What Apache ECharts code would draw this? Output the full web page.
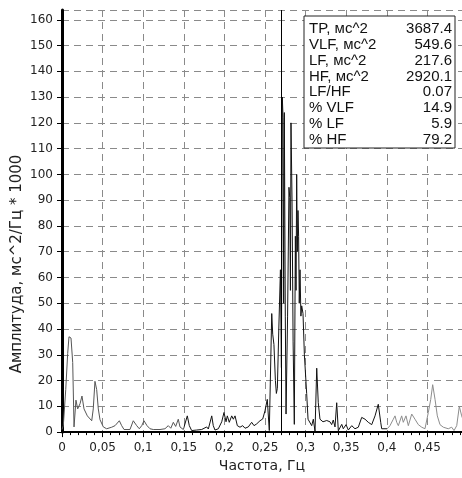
<!DOCTYPE html>
<html>
<head>
<meta charset="utf-8">
<script src="https://cdn.jsdelivr.net/npm/echarts@6/dist/echarts.min.js"></script>
<style>html,body{margin:0;padding:0;background:#fff}#c{width:462px;height:478px}</style>
</head>
<body>
<div id="c"></div>
<script>
var freqs = [0.0000,0.0016,0.0046,0.0070,0.0086,0.0111,0.0132,0.0148,0.0172,0.0193,0.0222,0.0246,0.0271,0.0312,0.0366,0.0385,0.0406,0.0427,0.0447,0.0468,0.0509,0.0550,0.0612,0.0653,0.0706,0.0735,0.0764,0.0837,0.0878,0.0920,0.0952,0.0982,0.1010,0.1047,0.1084,0.1124,0.1207,0.1268,0.1309,0.1340,0.1371,0.1400,0.1432,0.1453,0.1494,0.1543,0.1568,0.1597,0.1659,0.1720,0.1782,0.1802,0.1844,0.1863,0.1884,0.1925,0.1967,0.1995,0.2020,0.2036,0.2060,0.2090,0.2110,0.2131,0.2159,0.2192,0.2225,0.2254,0.2294,0.2336,0.2365,0.2398,0.2417,0.2438,0.2472,0.2500,0.2528,0.2553,0.2583,0.2595,0.2610,0.2628,0.2640,0.2652,0.2670,0.2690,0.2702,0.2713,0.2722,0.2730,0.2738,0.2750,0.2759,0.2778,0.2795,0.2805,0.2813,0.2820,0.2833,0.2846,0.2861,0.2874,0.2882,0.2890,0.2898,0.2906,0.2914,0.2922,0.2931,0.2942,0.2952,0.2968,0.2985,0.3013,0.3030,0.3054,0.3075,0.3095,0.3116,0.3137,0.3156,0.3177,0.3214,0.3260,0.3300,0.3321,0.3341,0.3362,0.3383,0.3403,0.3445,0.3464,0.3498,0.3526,0.3568,0.3608,0.3649,0.3691,0.3732,0.3772,0.3814,0.3855,0.3895,0.3925,0.3937,0.4006,0.4039,0.4080,0.4101,0.4122,0.4142,0.4183,0.4203,0.4236,0.4265,0.4307,0.4347,0.4388,0.4430,0.4470,0.4511,0.4541,0.4565,0.4594,0.4622,0.4655,0.4696,0.4757,0.4799,0.4828,0.4861,0.4893,0.4922,0.4960];
var amps = [1,2.5,16.5,30.5,37,36.5,27,2,12.4,9,11,14,9,6.3,4.4,9,19.7,16.5,9,4.8,2,1.3,1.9,2.5,4.4,2.5,1,1,4.4,2.5,1.3,2.5,4.4,2.5,1.3,1,1,1.3,2.5,1.5,3.8,2.2,5,2,1,6.3,2.5,0.6,0.8,1,2,1.2,6.3,2.5,0.8,1.3,4,7.6,4,6.3,3.8,6.3,5,6.3,2.5,1.9,2.5,1.5,2,3.8,2.5,3.2,2.5,4.4,5.1,8.3,12.7,0.6,46,38,34,20,15,17,40,63,25,130,122,50,124,45,7,45,95,91,55,120,90,35,3,76,55,100,70,86,76,50,63,45,49,46,30,15,5,5,2.5,5,0.3,24.8,11.4,5,4,4.5,4,2.9,4.7,2,11.4,0.5,3,1.3,2.9,0.8,2.5,1.3,1.9,5.7,5,3.8,2.9,6.3,10.8,3.8,1.3,1.3,2.5,5,6.3,3.8,2.5,6.3,3.8,6.3,2.5,7,5,2.9,1.9,1.3,7.6,12.7,18.4,12.7,6.3,2.9,1.9,1.3,1.9,0.6,2.5,10,6.3,3];
var xTickLabels = ['0','0,05','0,1','0,15','0,2','0,25','0,3','0,35','0,4','0,45'];
var yTickLabels = ['0','10','20','30','40','50','60','70','80','90','100','110','120','130','140','150','160'];
var statLabels = ['TP, мс^2','VLF, мс^2','LF, мс^2','HF, мс^2','LF/HF','% VLF','% LF','% HF'];
var statValues = ['3687.4','549.6','217.6','2920.1','0.07','14.9','5.9','79.2'];
var xAxisTitle = 'Частота, Гц';
var yAxisTitle = 'Амплитуда, мс^2/Гц * 1000';
var cursorFreq = 0.2716;

var chart = echarts.init(document.getElementById('c'));
var FONT = 'DejaVu Sans';
var pts = freqs.map(function(f,i){return [f, amps[i]];});

var statChildren = [{
  type:'rect', z:100, shape:{x:304,y:16,width:151,height:132},
  style:{fill:'#ffffff',stroke:'#222',lineWidth:1}
}];
statLabels.forEach(function(s,i){
  statChildren.push({type:'text', z:101, style:{text:s,x:309,y:29+i*15.8,textVerticalAlign:'middle',textAlign:'left',font:'15px "Liberation Sans"',fill:'#111'}});
  statChildren.push({type:'text', z:101, style:{text:statValues[i],x:452,y:29+i*15.8,textVerticalAlign:'middle',textAlign:'right',font:'15px "Liberation Sans"',fill:'#111'}});
});

chart.setOption({
  animation:false,
  backgroundColor:'#fff',
  grid:{left:62,right:0,top:10,bottom:38},
  xAxis:[{
    type:'value', min:0, max:0.4926, interval:0.05, position:'bottom',
    axisLine:{show:true,onZero:false,lineStyle:{color:'#000',width:2}},
    axisTick:{show:true,length:5,lineStyle:{color:'#000'}},
    minorTick:{show:true,splitNumber:5,length:3,lineStyle:{color:'#000'}},
    splitLine:{show:true,lineStyle:{color:'#8a8a8a',type:[7,5],width:1}},
    axisLabel:{color:'#222',fontFamily:FONT,fontSize:12,margin:10,showMaxLabel:false,
      formatter:function(v){return xTickLabels[Math.round(v/0.05)]||'';}},
    name:xAxisTitle, nameLocation:'middle', nameGap:26,
    nameTextStyle:{color:'#222',fontFamily:FONT,fontSize:14}
  },{
    type:'value', min:0, max:0.4926, interval:0.05, position:'top',
    axisLine:{show:true,lineStyle:{color:'#000',width:1}},
    axisTick:{show:true,inside:true,length:4,lineStyle:{color:'#000'}},
    axisLabel:{show:false}, splitLine:{show:false}
  }],
  yAxis:{
    type:'value', min:0, max:163.8, interval:10,
    axisLine:{show:true,lineStyle:{color:'#000',width:3}},
    axisTick:{show:true,length:5,lineStyle:{color:'#000'}},
    splitLine:{show:true,lineStyle:{color:'#8a8a8a',type:[7,5],width:1}},
    axisLabel:{color:'#222',fontFamily:FONT,fontSize:12,margin:9,showMaxLabel:false,
      formatter:function(v){var k=Math.round(v/10);return (Math.abs(v-k*10)<1e-6&&yTickLabels[k])?yTickLabels[k]:'';}}
  },
  visualMap:{show:false, type:'piecewise', dimension:0, seriesIndex:0,
    pieces:[{gte:-1,lt:0.15,color:'#555'},{gte:0.15,lte:0.4,color:'#111'},{gt:0.4,lte:1,color:'#8c8c8c'}]},
  series:[{
    type:'line', data:pts, showSymbol:false, symbol:'none',
    lineStyle:{width:1}, clip:true,
    markLine:{silent:true,symbol:'none',label:{show:false},
      lineStyle:{color:'#000',width:1,type:'solid'},
      data:[{xAxis:cursorFreq}]}
  }],
  graphic:[
    {type:'group', z:100, children:statChildren},
    {type:'text', z:50, x:17, y:264, rotation:Math.PI/2,
     style:{text:yAxisTitle, textAlign:'center', textVerticalAlign:'middle', font:'15px "DejaVu Sans"', fill:'#222'}}
  ]
});
</script>
</body>
</html>
